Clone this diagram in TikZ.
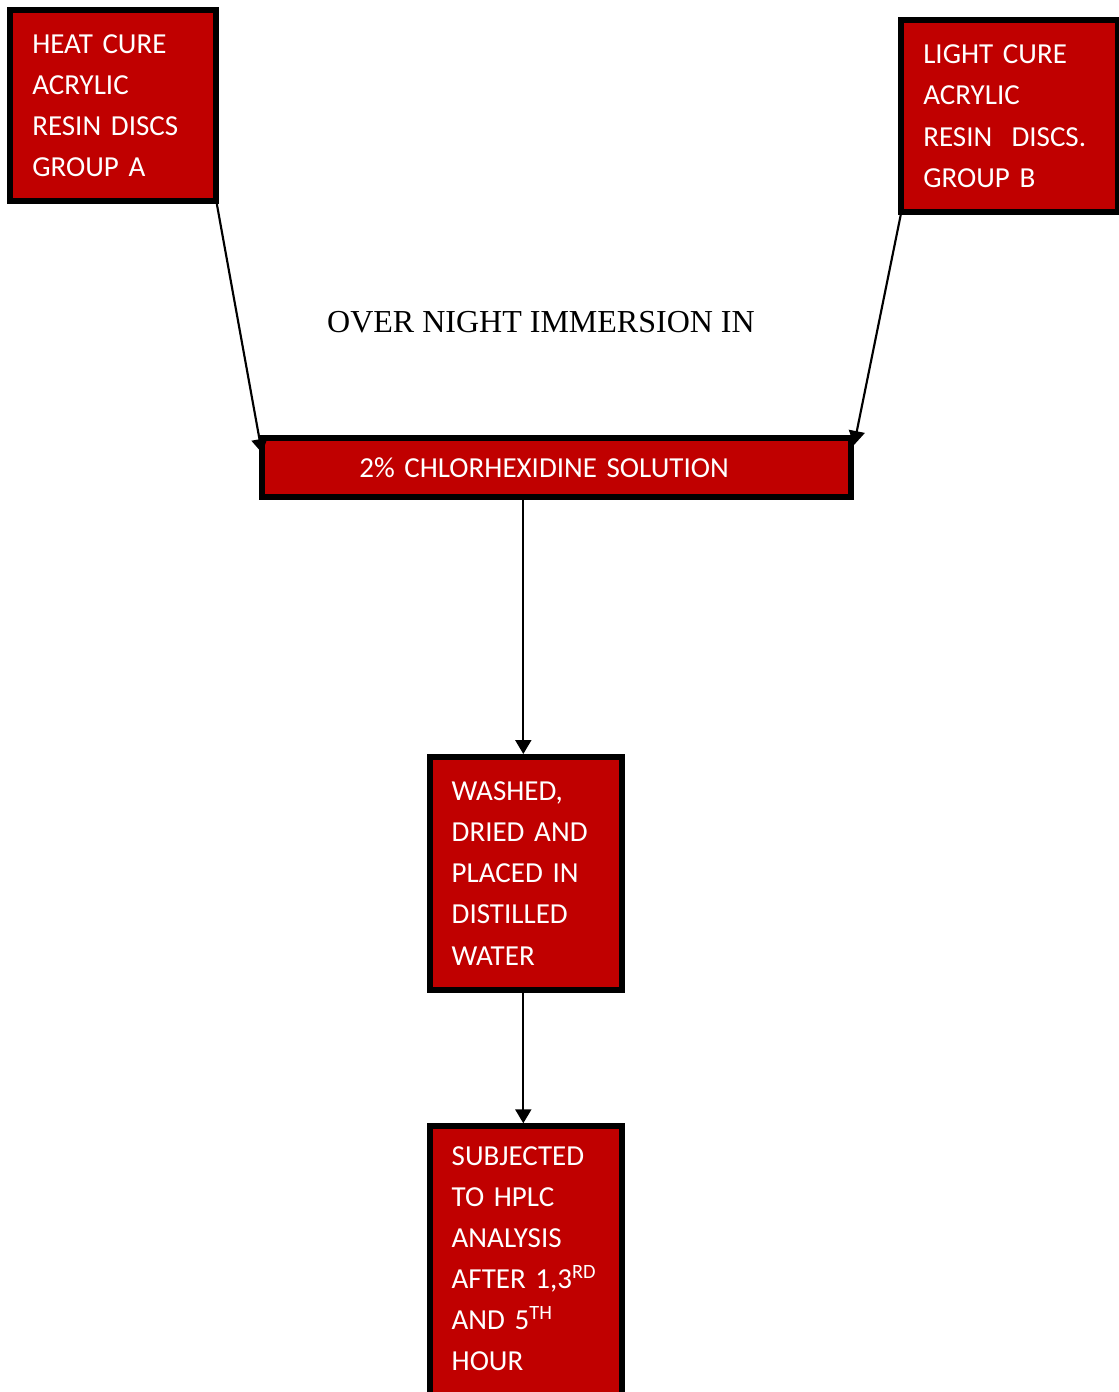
\documentclass[tikz,border=0pt]{standalone}
\usepackage{fontspec}
\setmainfont{Carlito}
\newfontfamily\timesfont{Liberation Serif}
\usetikzlibrary{arrows.meta}
\definecolor{resinred}{HTML}{C00000}

\begin{document}
\begin{tikzpicture}[x=0.75pt,
y=-0.75pt,
every node/.style={
rectangle,
anchor=north west,
outer sep=0pt,
},
box/.style={
draw,
line width=4.5pt,
fill=resinred,
text=white,
align=left,
inner xsep=16.5pt,
font=\fontsize{21.75}{30.8}\selectfont,
},
flow/.style={
line width=1.6pt,
-{Triangle[length=10.5pt,width=12pt]},
}]
\useasboundingbox (0,0) rectangle (1119,1392);
\clip (0,0) rectangle (1119,1392);

%group boxes
\node[box,minimum width=154.5pt,minimum height=143.5pt,text width=121.5pt](heat)at(10.3,9.7){HEAT CURE\\ACRYLIC\\RESIN DISCS\\GROUP A};
\node[box,minimum width=162.5pt,minimum height=143.8pt,text width=129.5pt](light)at(901.3,20.3){LIGHT CURE\\ACRYLIC\\RESIN~~DISCS.\\GROUP B};

%immersion
\node[anchor=center,font=\timesfont\fontsize{24}{28}\selectfont](immersion)at(541,321.7){OVER NIGHT IMMERSION IN};
\node[box,minimum width=441.75pt,minimum height=44.25pt,inner xsep=72.75pt,text width=296.25pt](solution)at(262.3,438){2\% CHLORHEXIDINE SOLUTION};

%later steps
\node[box,minimum width=144.2pt,minimum height=174.75pt,text width=111.2pt](washed)at(429.7,757){WASHED,\\DRIED AND\\PLACED IN\\DISTILLED\\WATER};
\node[box,minimum width=144.2pt,inner ysep=15.25pt,text depth=200pt,text width=111.2pt](hplc)at(429.7,1126.3){SUBJECTED\\TO HPLC\\ANALYSIS\\AFTER 1,3\textsuperscript{RD}\\AND 5\textsuperscript{TH}\\HOUR};

%connectors
\coordinate(tipA)at(262,453);
\coordinate(tipB)at(854,445);
\coordinate(spine)at(523.3,0);
\draw[flow](heat.south east)--(tipA);
\draw[flow](light.south west)--(tipB);
\draw[flow,shorten >=2.25pt](solution.south-|spine)--(washed.north-|spine);
\draw[flow,shorten >=2.25pt](washed.south-|spine)--(hplc.north-|spine);
\end{tikzpicture}
\end{document}
